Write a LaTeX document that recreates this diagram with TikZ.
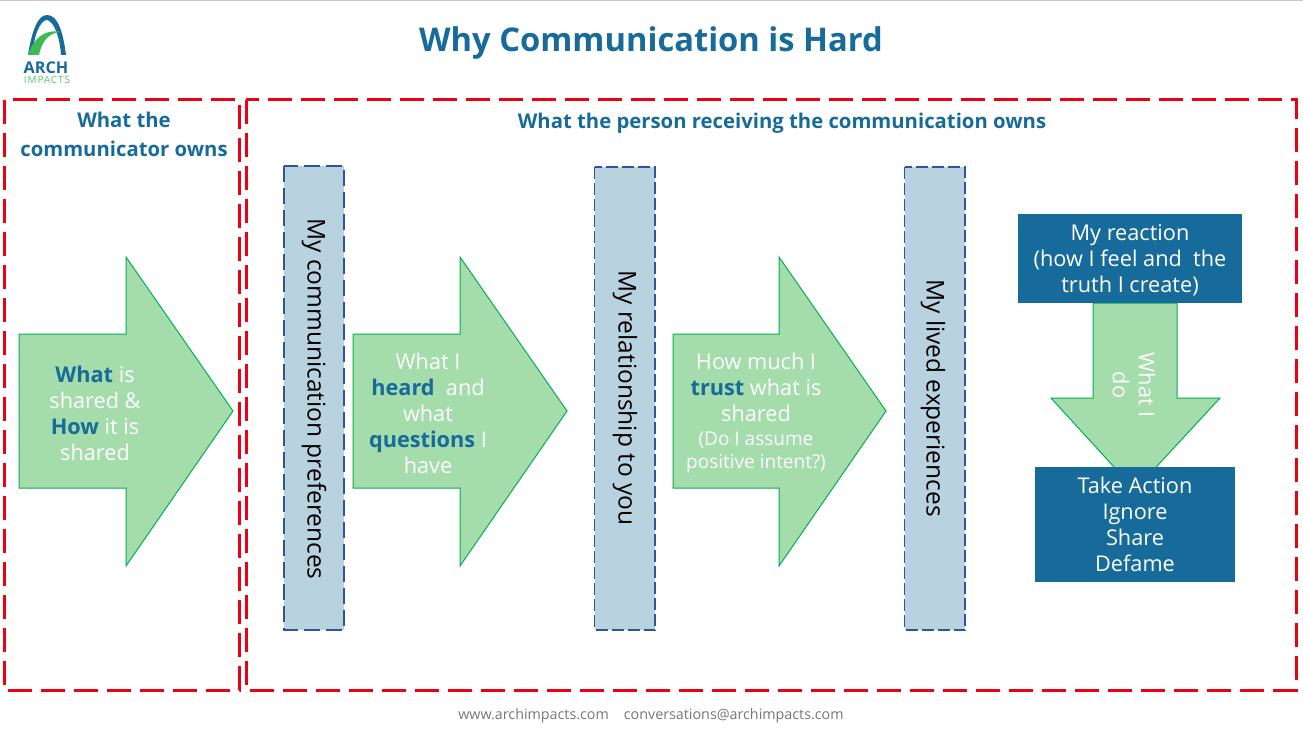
\documentclass[tikz,border=0pt]{standalone}
\usepackage{fontspec}
\setmainfont{Open Sans}
\usetikzlibrary{positioning,calc}
\definecolor{archblue}{RGB}{23,107,155}
\definecolor{archgreen}{RGB}{60,186,84}
\definecolor{lgreen}{RGB}{164,221,171}
\definecolor{egreen}{RGB}{0,176,80}
\definecolor{barfill}{RGB}{185,210,224}
\definecolor{barline}{RGB}{47,85,151}
\definecolor{ownred}{RGB}{235,0,20}
\definecolor{footgray}{RGB}{118,118,118}
\newcommand{\Bcol}[1]{\textcolor{archblue}{\textbf{#1}}}
\newcommand{\Smalltxt}[1]{{\fontsize{19}{23}\selectfont #1}}
\newcommand{\garrow}[3]{%
  \draw[garr] (#1,334) -- (#2,334) -- (#2,257) -- (#3,411) -- (#2,566) -- (#2,488) -- (#1,488) -- cycle;}
\tikzset{
  own/.style={draw=ownred, line width=3pt, dash pattern=on 24pt off 9pt},
  ttl/.style={font=\fontsize{20.3}{29}\selectfont\bfseries, text=archblue, align=center},
  garr/.style={draw=egreen, fill=lgreen, line width=1pt},
  vbar/.style={draw=barline, fill=barfill, line width=1.5pt, dash pattern=on 12pt off 4pt},
  vbarw/.style={vbar, line width=2.2pt, dash pattern=on 16pt off 6pt},
  vlab/.style={font=\fontsize{24.5}{30}\selectfont, rotate=-90, text=black},
  atxt/.style={font=\fontsize{21.7}{26}\selectfont, text=white, align=center},
  dbox/.style={fill=archblue, text=white, font=\fontsize{21.7}{26}\selectfont, align=center, inner sep=0pt},
}
\begin{document}
\begin{tikzpicture}[x=1pt,y=-1pt]
\useasboundingbox (0,0) rectangle (1303,733);
\draw[gray!45, line width=1pt] (0,0.5) -- (1303,0.5);
\node[font=\fontsize{32.7}{40}\selectfont\bfseries, text=archblue] (title) at (651,43) {Why Communication is Hard};
\fill[archblue] (28,55) .. controls (32,30) and (38,15) .. (47,15) .. controls (58,15) and (63,32) .. (66,55)
  -- (61,55) .. controls (60,38) and (54,21) .. (47,20) .. controls (40,20) and (34,36) .. (32,55) -- cycle;
\fill[archgreen] (28,55) .. controls (32,42) and (42,28) .. (62,32) .. controls (50,32) and (42,40) .. (39,55) -- cycle;
\node[font=\fontsize{16.2}{16}\selectfont\bfseries, text=archblue, inner sep=0pt] (arch) at (46,67.5) {ARCH};
\node[font=\fontsize{10}{11}\selectfont\addfontfeature{LetterSpace=9}, text=archgreen!85, inner sep=0pt] (impacts) at (47,80) {IMPACTS};
\draw[own] (4,100) rectangle (239,690);
\draw[own] (246,100) rectangle (1296,690);
\node[ttl] (ownerl) at (124,134.5) {What the\\communicator owns};
\node[ttl] (ownerr) at (782,123) {What the person receiving the communication owns};
\garrow{19}{126}{233}
\garrow{353}{460}{567}
\garrow{673}{779}{886}
\node[atxt] (whatshared) at (95,413) {\Bcol{What} is\\shared \&\\\Bcol{How} it is\\shared};
\node[atxt] (whatheard) at (428,413) {What I\\\Bcol{heard}~ and\\what\\\Bcol{questions} I\\have};
\node[atxt] (howtrust) at (756,413.5) {How much I\\\Bcol{trust} what is\\shared\\[-2pt]\Smalltxt{(Do I assume}\\[-3pt]\Smalltxt{positive intent?)}};
\draw[vbarw] (284,166) rectangle (344,630);
\draw[vbar] (594.5,167) rectangle (655,630);
\draw[vbar] (904.5,167) rectangle (965,630);
\node[vlab] (prefs) at (314,399) {My communication preferences};
\node[vlab] (relat) at (625,398) {My relationship to you};
\node[vlab] (lived) at (933,398) {My lived experiences};
\draw[garr] (1093,303) -- (1093,398) -- (1051,398) -- (1135,490) -- (1220,398) -- (1177,398) -- (1177,303) -- cycle;
\node[atxt, rotate=-90] (whatdo) at (1134,385) {What I\\do};
\node[dbox, minimum width=224pt, minimum height=89pt] (react) at (1130,258.5) {\rule{0pt}{19pt}My reaction\\(how I feel and~ the\\truth I create)};
\node[dbox, minimum width=200pt, minimum height=115pt] (action) at (1135,524) {Take Action\\Ignore\\Share\\Defame};
\node[font=\fontsize{14.3}{16}\selectfont, text=footgray] (foot) at (651,716) {www.archimpacts.com\hspace{15pt}conversations@archimpacts.com};
\end{tikzpicture}
\end{document}
